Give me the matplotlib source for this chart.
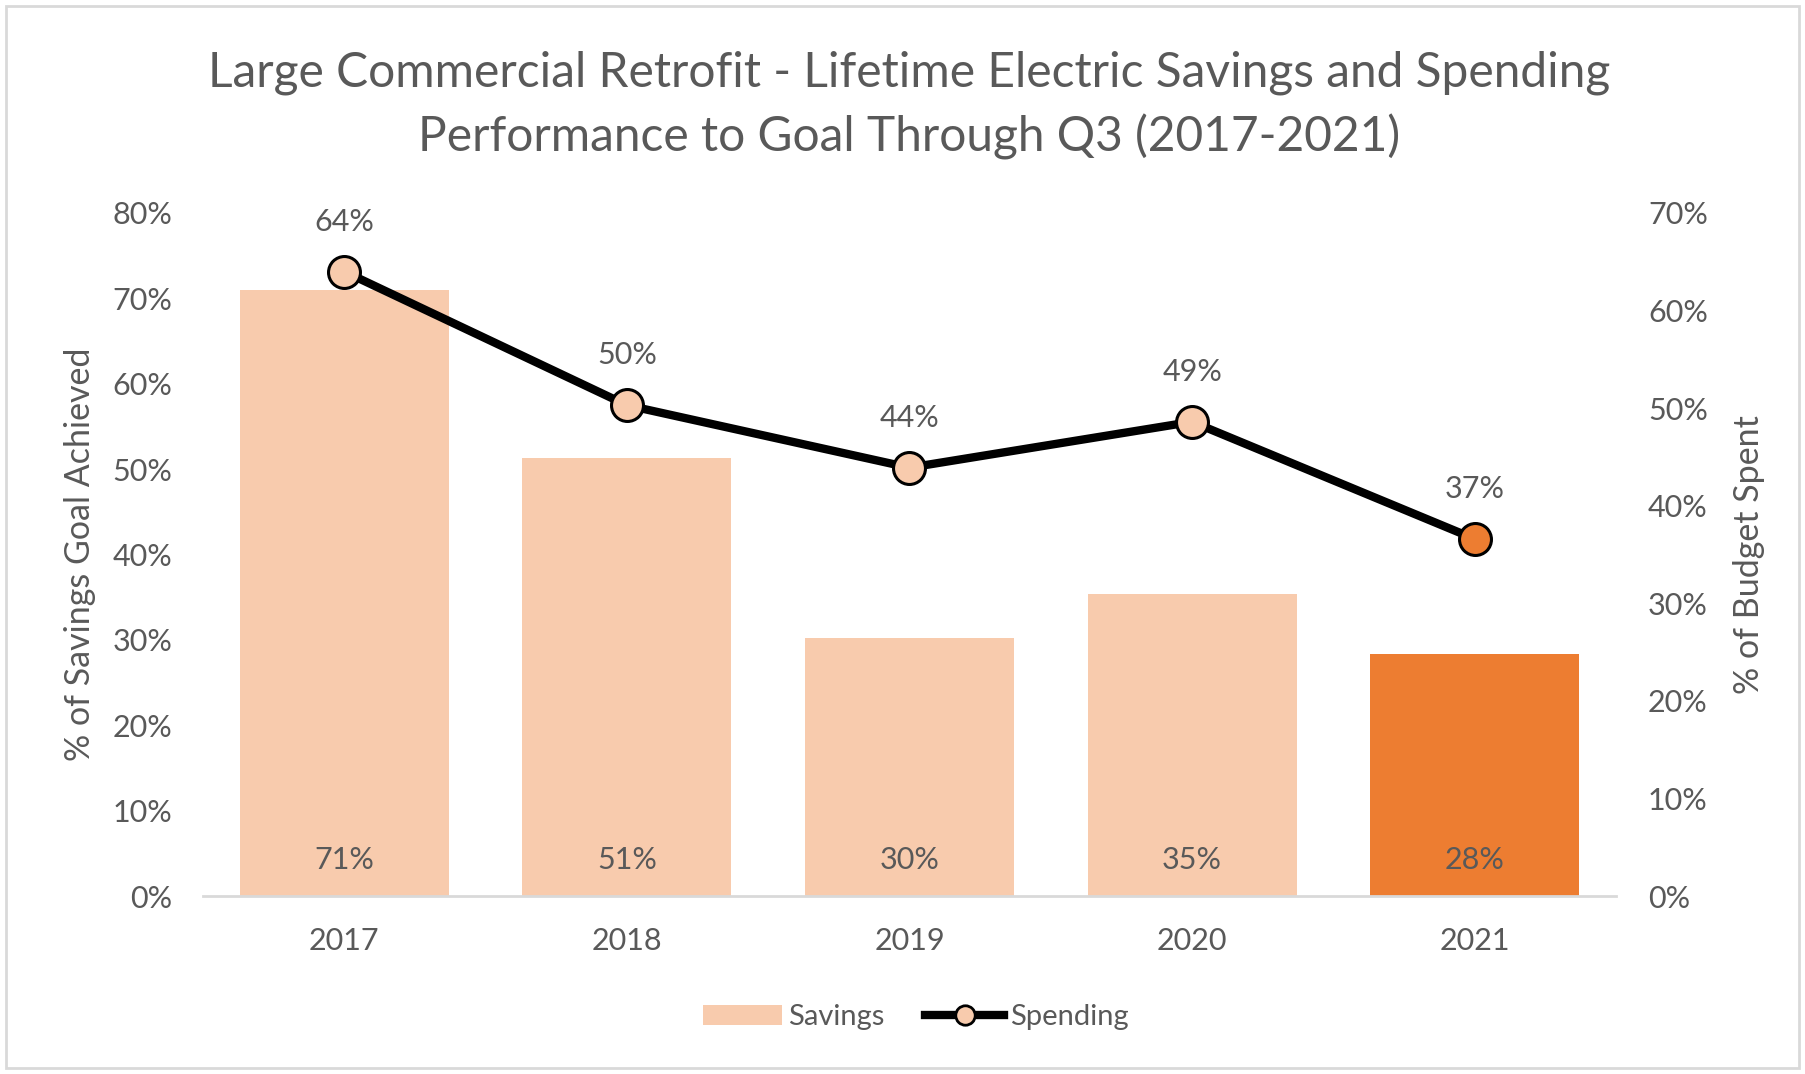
import matplotlib
matplotlib.use("Agg")
import matplotlib.pyplot as plt
from matplotlib.patches import Patch, Rectangle
from matplotlib.lines import Line2D
from matplotlib.ticker import PercentFormatter, MultipleLocator

years = ["2017", "2018", "2019", "2020", "2021"]
savings = [0.71, 0.513, 0.302, 0.354, 0.284]
spending = [0.64, 0.503, 0.439, 0.486, 0.366]
savings_labels = ["71%", "51%", "30%", "35%", "28%"]
spending_labels = ["64%", "50%", "44%", "49%", "37%"]

plt.rcParams['font.family'] = ['Lato', 'DejaVu Sans']
TXT = '#595959'
LIGHT = '#F8CBAD'
DARK = '#ED7D31'

fig = plt.figure(figsize=(18.06, 10.74), dpi=100)
ax = fig.add_axes([203/1806, 1-896/1074, (1616-203)/1806, (896-213)/1074])
ax2 = ax.twinx()

x = list(range(len(years)))
colors = [LIGHT]*(len(years)-1) + [DARK]
ax.bar(x, savings, width=0.74, color=colors, zorder=2)
ax.set_xlim(-0.5, len(years)-0.5)
ax.set_ylim(0, 0.8)
ax.yaxis.set_major_locator(MultipleLocator(0.1))
ax.yaxis.set_major_formatter(PercentFormatter(1.0, decimals=0))
ax.set_xticks(x)
ax.set_xticklabels(years)

for i, lab in enumerate(savings_labels):
    ax.annotate(lab, xy=(i, 0), xytext=(0, 26), textcoords='offset points',
                ha='center', va='center', fontsize=22, color=TXT)

mfc = [LIGHT]*(len(years)-1) + [DARK]
ax2.plot(x, spending, color='black', lw=6, zorder=3, solid_capstyle='round')
for i, v in enumerate(spending):
    ax2.plot([i], [v], marker='o', ms=23, mfc=mfc[i], mec='black', mew=2.2, zorder=4, ls='none')
    ax2.annotate(spending_labels[i], xy=(i, v), xytext=(0, 36), textcoords='offset points',
                 ha='center', va='center', fontsize=22, color=TXT)
ax2.set_ylim(0, 0.7)
ax2.yaxis.set_major_locator(MultipleLocator(0.1))
ax2.yaxis.set_major_formatter(PercentFormatter(1.0, decimals=0))

for a in (ax, ax2):
    for s in a.spines.values():
        s.set_visible(False)
    a.tick_params(axis='both', length=0, labelsize=22, labelcolor=TXT)
ax.spines['bottom'].set_visible(True)
ax.spines['bottom'].set_color('#d9d9d9')
ax.spines['bottom'].set_linewidth(2)
ax.tick_params(axis='x', pad=22)
ax.tick_params(axis='y', pad=22)
ax2.tick_params(axis='y', pad=23)

ax.set_ylabel('% of Savings Goal Achieved', fontsize=24.5, color=TXT, labelpad=12)
ax2.set_ylabel('% of Budget Spent', fontsize=24.5, color=TXT, labelpad=18)

fig.text(909/1806, 1-105/1074,
         'Large Commercial Retrofit - Lifetime Electric Savings and Spending\nPerformance to Goal Through Q3 (2017-2021)',
         ha='center', va='center', fontsize=34.5, color=TXT, linespacing=1.5)

handles = [Patch(facecolor=LIGHT, edgecolor='none'),
           Line2D([0], [0], color='black', lw=6, marker='o', ms=14, mfc=LIGHT, mec='black', mew=2)]
fig.legend(handles, ['Savings', 'Spending'], loc='center', bbox_to_anchor=(916/1806, 1-1017/1074),
           ncol=2, frameon=False, fontsize=21, labelcolor=TXT, handlelength=2.7, handletextpad=0.2,
           columnspacing=1.4)

fig.add_artist(Rectangle((6/1806, 6/1074), 1793/1806, 1062/1074, transform=fig.transFigure,
                         fill=False, edgecolor='#d9d9d9', lw=2))

fig.savefig('out.png', dpi=100)
